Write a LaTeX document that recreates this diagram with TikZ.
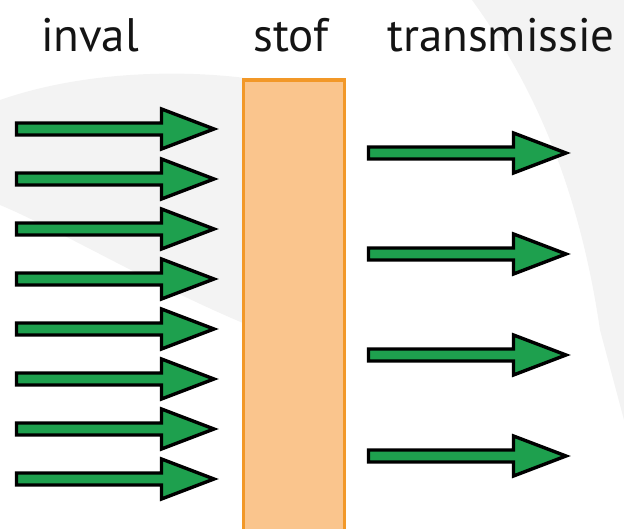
\documentclass[tikz,border=0pt]{standalone}
\usepackage{fontspec}
\setmainfont{PT Sans}
\definecolor{arrowgreen}{RGB}{30,160,78}
\definecolor{boxfill}{RGB}{250,197,141}
\definecolor{boxline}{RGB}{242,152,40}
\definecolor{wmgrey}{RGB}{243,243,243}
\definecolor{textcol}{RGB}{20,20,20}
\tikzset{
  arrowshape/.style={draw=black, fill=arrowgreen, line width=3.4pt, line join=miter},
  label/.style={font=\fontsize{47}{50}\selectfont, text=textcol, inner sep=0pt, anchor=base},
  slab/.style={draw=boxline, fill=boxfill, line width=3.2pt}
}
\begin{document}
\begin{tikzpicture}[x=1pt,y=-1pt]
\useasboundingbox (0,0) rectangle (624,529);
% faint watermark background
\fill[wmgrey] (0,100) .. controls (80,72) and (180,68) .. (260,80) -- (260,330) .. controls (160,290) and (60,230) .. (0,205) -- cycle;
\fill[wmgrey] (472,0) .. controls (530,80) and (578,180) .. (600,330) -- (624,420) -- (624,0) -- cycle;
% incident arrows
\foreach \i in {0,...,7}{
  \pgfmathsetmacro{\cy}{129+50*\i}
  \draw[arrowshape] (16.5,\cy-6) -- (161.5,\cy-6) -- (161.5,\cy-20) -- (214,\cy) -- (161.5,\cy+20) -- (161.5,\cy+6) -- (16.5,\cy+6) -- cycle;
}
% material slab
\node[slab, minimum width=101pt, minimum height=470pt, anchor=north west, inner sep=0pt] (stofbox) at (241.5,78.5) {};
% transmitted arrows
\foreach \i in {0,...,3}{
  \pgfmathsetmacro{\cy}{153+101*\i}
  \draw[arrowshape] (368.5,\cy-6) -- (513.5,\cy-6) -- (513.5,\cy-20) -- (566,\cy) -- (513.5,\cy+20) -- (513.5,\cy+6) -- (368.5,\cy+6) -- cycle;
}
% labels
\node[label] (inval) at (90,52) {inval};
\node[label] (stof) at (291,52) {stof};
\node[label] (trans) at (501,52) {transmissie};
\end{tikzpicture}
\end{document}
